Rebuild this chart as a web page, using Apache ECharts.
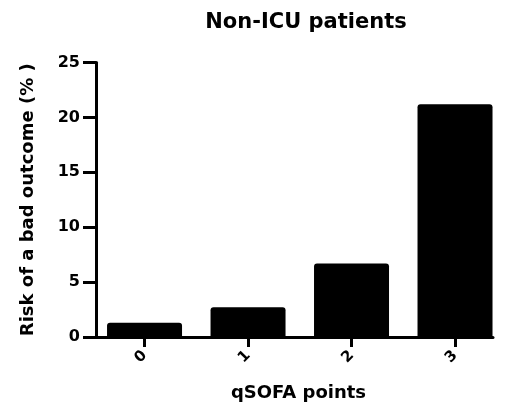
<!DOCTYPE html>
<html>
<head>
<meta charset="utf-8">
<script src="https://cdn.jsdelivr.net/npm/echarts@6/dist/echarts.min.js"></script>
<style>html,body{margin:0;padding:0;background:#fff;}#main{width:505px;height:407px;}</style>
</head>
<body>
<div id="main"></div>
<script>
const categories = ['0', '1', '2', '3'];
const categoryPositions = [0, 1, 2, 3];
const riskValues = [1.3, 2.7, 6.7, 21.2];
const yTicks = [0, 5, 10, 15, 20, 25];

const FONT = 'DejaVu Sans';
const chart = echarts.init(document.getElementById('main'), null, {renderer: 'canvas'});
chart.setOption({
  backgroundColor: '#ffffff',
  animation: false,
  title: {
    text: 'Non-ICU patients',
    left: 301, top: 7, textAlign: 'center',
    textStyle: {fontFamily: FONT, fontWeight: 'bold', fontSize: 21, color: '#000'}
  },
  grid: {left: 96, right: 12, top: 62.5, bottom: 69.5, containLabel: false},
  xAxis: {
    type: 'value',
    min: -0.469, max: 3.367,
    name: 'qSOFA points',
    nameLocation: 'middle',
    nameGap: 47,
    nameTextStyle: {fontFamily: FONT, fontWeight: 'bold', fontSize: 18, color: '#000', padding: [0, 0, 0, 8]},
    axisLine: {show: true, onZero: false, lineStyle: {color: '#000', width: 3}},
    axisTick: {show: true, customValues: categoryPositions, length: 10, lineStyle: {color: '#000', width: 3}},
    axisLabel: {
      customValues: categoryPositions,
      rotate: 45, margin: 16,
      formatter: v => categories[categoryPositions.indexOf(v)],
      fontFamily: FONT, fontWeight: 'bold', fontSize: 15, color: '#000'
    },
    splitLine: {show: false}
  },
  yAxis: {
    type: 'value',
    min: 0, max: 25, interval: 5,
    name: 'Risk of a bad outcome (% )',
    nameLocation: 'middle',
    nameGap: 59,
    nameTextStyle: {fontFamily: FONT, fontWeight: 'bold', fontSize: 18, color: '#000'},
    axisLine: {show: true, onZero: false, lineStyle: {color: '#000', width: 3}},
    axisTick: {show: true, length: 13, lineStyle: {color: '#000', width: 3}},
    axisLabel: {
      margin: 16,
      formatter: v => yTicks.includes(v) ? String(v) : '',
      fontFamily: FONT, fontWeight: 'bold', fontSize: 16, color: '#000'
    },
    splitLine: {show: false}
  },
  series: [{
    type: 'bar',
    data: categoryPositions.map((x, i) => [x, riskValues[i]]),
    barWidth: 75,
    itemStyle: {color: '#000', borderRadius: [3, 3, 0, 0]}
  }]
});
</script>
</body>
</html>
